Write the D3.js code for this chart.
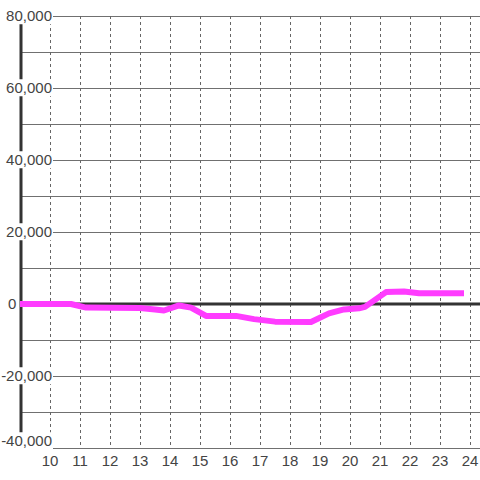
<!DOCTYPE html>
<html>
<head>
  <meta charset="utf-8">
<style>
  body { margin: 0; background: #fff; }
  .ylab, .xlab { font-family: "Liberation Sans", Arial, sans-serif; font-size: 15px; fill: #444; }
</style>
</head>
<body>
<svg width="480" height="480"></svg>
<script src="https://d3js.org/d3.v7.min.js"></script>
<script>

// Data
var hours  = [9, 10.7, 11.2, 13.0, 13.5, 13.8, 14.3, 14.7, 15.2, 16.2, 16.8, 17.5, 18.7, 19.3, 19.8, 20.3, 20.5, 21.2, 21.8, 22.3, 23.8];
var values = [0, 0, -1000, -1100, -1500, -1800, -400, -1000, -3300, -3300, -4200, -4900, -5000, -2600, -1500, -1200, -800, 3300, 3500, 3000, 3000];
var xTicks = [10, 11, 12, 13, 14, 15, 16, 17, 18, 19, 20, 21, 22, 23, 24];
var yTicks = [80000, 60000, 40000, 20000, 0, -20000, -40000];
var yGrid  = d3.range(-40000, 80001, 10000);

var svg = d3.select("svg");

var x = d3.scaleLinear().domain([9, 24 + 1/3]).range([20, 480]);
var y = d3.scaleLinear().domain([-40000, 80000]).range([448, 16]);

// grid
svg.append("g").selectAll("line")
    .data(yGrid)
    .enter().append("line")
      .attr("x1", 20).attr("x2", 480)
      .attr("y1", function(d) { return y(d); })
      .attr("y2", function(d) { return y(d); })
      .attr("stroke", "#707070")
      .attr("stroke-width", 1)
      .attr("shape-rendering", "crispEdges");

svg.append("g").selectAll("line")
    .data(xTicks)
    .enter().append("line")
      .attr("x1", function(d) { return x(d); })
      .attr("x2", function(d) { return x(d); })
      .attr("y1", 16).attr("y2", 448)
      .attr("stroke", "#666")
      .attr("stroke-dasharray", "3,3")
      .attr("shape-rendering", "crispEdges");

// y axis line and zero line
svg.append("line")
    .attr("x1", 21).attr("x2", 21)
    .attr("y1", 16).attr("y2", 448)
    .attr("stroke", "#333").attr("stroke-width", 3);

svg.append("line")
    .attr("x1", 20).attr("x2", 480)
    .attr("y1", y(0)).attr("y2", y(0))
    .attr("stroke", "#333").attr("stroke-width", 3);

// y labels with white background (bottom one nudged up off the x labels)
var fmt = d3.format(",");
var yl = svg.append("g");
yTicks.forEach(function(v) {
  var g = yl.append("g");
  var t = g.append("text")
      .attr("class", "ylab")
      .attr("x", v === 0 ? 8 : 52)
      .attr("y", Math.min(y(v), 441))
      .attr("dy", "0.35em")
      .attr("text-anchor", v === 0 ? "start" : "end")
      .text(fmt(v).replace("−", "-"));
  var b = t.node().getBBox();
  g.insert("rect", "text")
      .attr("x", b.x - 1).attr("y", b.y)
      .attr("width", b.width + 2).attr("height", b.height)
      .attr("fill", "#fff");
});

// x labels
svg.append("g").selectAll("text")
    .data(xTicks)
    .enter().append("text")
      .attr("class", "xlab")
      .attr("x", function(d) { return x(d); })
      .attr("y", 461)
      .attr("dy", "0.35em")
      .attr("text-anchor", "middle")
      .text(function(d) { return d; });

// series
var line = d3.line()
    .x(function(d, i) { return x(hours[i]); })
    .y(function(d) { return y(d); });

svg.append("path")
    .datum(values)
    .attr("d", line)
    .attr("fill", "none")
    .attr("stroke", "#ff3cff")
    .attr("stroke-width", 6)
    .attr("stroke-linejoin", "round");

</script>
</body>
</html>
